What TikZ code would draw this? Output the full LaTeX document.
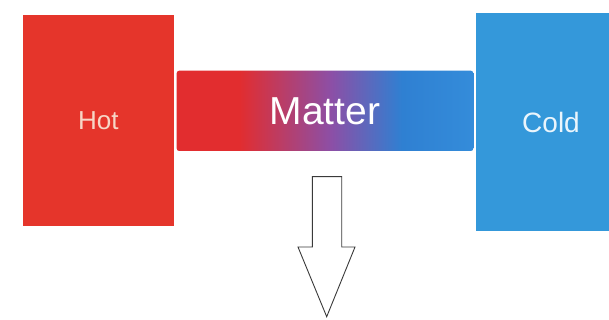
\documentclass[tikz,border=0pt]{standalone}
\usepackage{fontspec}
\setmainfont{Liberation Sans}
\definecolor{hotred}{HTML}{E5352B}
\definecolor{coldblue}{HTML}{3498DA}
\definecolor{mred}{HTML}{E22D2F}
\definecolor{mpurple}{HTML}{8C4FA6}
\definecolor{mblue}{HTML}{2F80D2}
\definecolor{mblueend}{HTML}{348CDA}
\definecolor{hottext}{HTML}{F7D6C6}
\definecolor{coldtext}{HTML}{EAF5FC}
\definecolor{arrowline}{HTML}{3A3A3A}
\pgfdeclarehorizontalshading{matter}{100bp}{color(0bp)=(mred); color(25bp)=(mred); color(35.5bp)=(mred); color(51bp)=(mpurple); color(63bp)=(mblue); color(75bp)=(mblueend); color(100bp)=(mblueend)}
\tikzset{
  block/.style={draw=none, inner sep=0pt, outer sep=0pt},
  bigarrow/.style={draw=arrowline, line width=0.9pt, fill=white, line join=miter}
}
\begin{document}
\begin{tikzpicture}[x=1pt, y=-1pt]
\useasboundingbox (0,0) rectangle (609,320);
\clip (0,0) rectangle (609,320);
\fill[white] (0,0) rectangle (609,320);
\node[block, fill=hotred, minimum width=151.3pt, minimum height=210.7pt, text=hottext, font=\fontsize{26}{30}\selectfont] (hot) at (98.35,120.35) {Hot};
\node[block, fill=coldblue, minimum width=150pt, minimum height=217.4pt, text=coldtext, font=\fontsize{28}{32}\selectfont] (cold) at (551,122) {Cold};
\node[block, shading=matter, rounded corners=2.5pt, minimum width=296.6pt, minimum height=80.3pt, text=white, font=\fontsize{39}{44}\selectfont] (matter) at (325.0,110.85) {Matter};
\coordinate (a1) at (312.3,176.7);
\coordinate (a2) at (341.7,176.7);
\coordinate (a3) at (341.7,247);
\coordinate (a4) at (355,247);
\coordinate (tip) at (326.7,316.7);
\coordinate (a6) at (298,247);
\coordinate (a7) at (312.3,247);
\draw[bigarrow] (a1) -- (a2) -- (a3) -- (a4) -- (tip) -- (a6) -- (a7) -- cycle;
\end{tikzpicture}
\end{document}
